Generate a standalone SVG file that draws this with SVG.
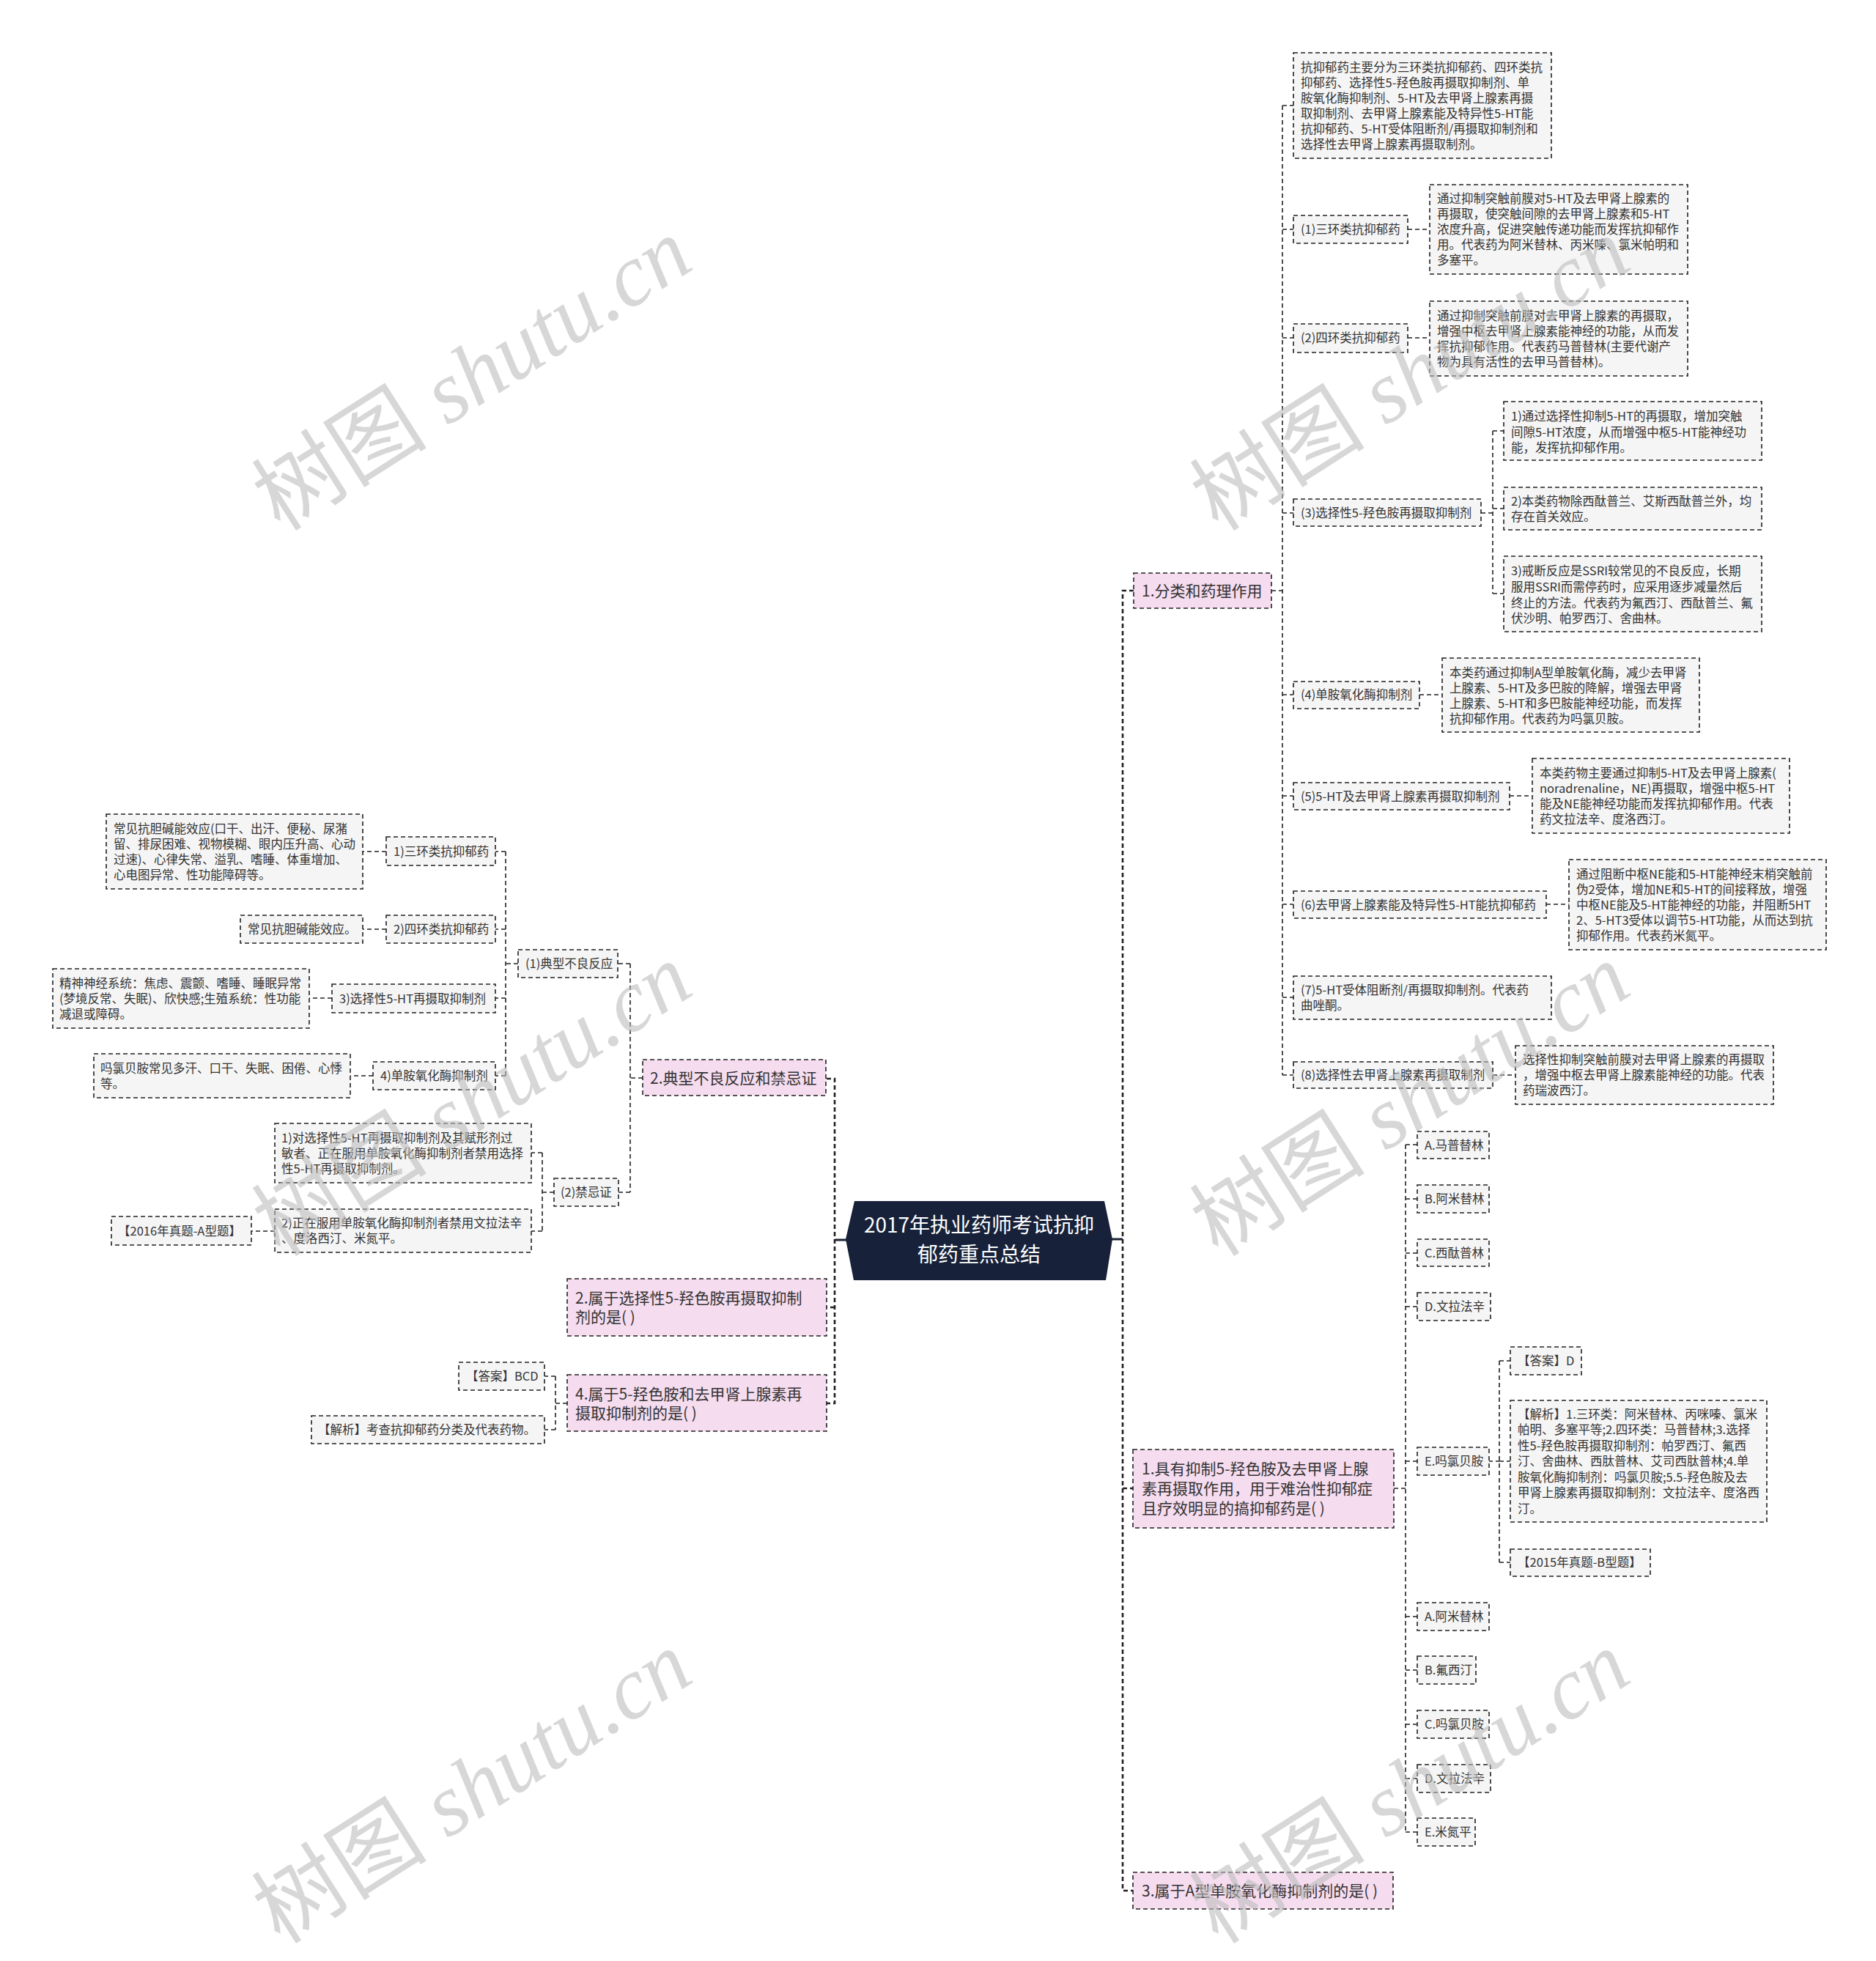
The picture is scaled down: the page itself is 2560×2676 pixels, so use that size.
<svg xmlns="http://www.w3.org/2000/svg" width="2560" height="2676" viewBox="0 0 2560 2676">
<style>
.box{fill:#f5f5f5;stroke:#222;stroke-width:1.6;stroke-dasharray:6 4}
.pk{fill:#f6dcef}
.t{font-family:"Noto Sans CJK SC","Noto Sans",sans-serif;font-size:16.5px;fill:#333}
.t1{font-size:21px}
.ln{fill:none;stroke:#222;stroke-width:1.6;stroke-dasharray:6 4}
.tr{stroke-width:2.6}
.solid{fill:none;stroke:#1a2335;stroke-width:3}
.wm{font-family:"Liberation Serif","Noto Sans CJK SC",serif;font-size:120px;fill:#bdbdbd;opacity:0.6}
</style>
<rect width="2560" height="2676" fill="#ffffff"/>

<g id="connectors">
<path class="solid" d="M1139 1692H1155M1517 1691H1532"/>
<path class="ln tr" d="M1547 806H1532V2580H1546"/>
<path class="ln tr" d="M1532 2031H1546"/>
<path class="ln tr" d="M1128 1472H1139V1915H1128M1139 1784H1128"/>
<path class="ln" d="M1735 806H1750M1750 144V1467M1750 144H1765M1750 313H1765M1750 461H1765M1750 700H1765M1750 948H1765M1750 1086H1765M1750 1234H1765M1750 1361H1765M1750 1467H1765"/>
<path class="ln" d="M1921 313H1951M1921 461H1951M1937 948H1968M2060 1086H2091M2110 1234H2141M2037 1467H2068"/>
<path class="ln" d="M2021 700H2037M2037 588V810M2037 588H2052M2037 694H2052M2037 810H2052"/>
<path class="ln" d="M1902 2031H1918M1918 1562V2500M1918 1562H1934M1918 1636H1934M1918 1710H1934M1918 1783H1934M1918 1994H1934M1918 2206H1934M1918 2279H1934M1918 2353H1934M1918 2427H1934M1918 2500H1934"/>
<path class="ln" d="M2031 1994H2046M2046 1857V2132M2046 1857H2061M2046 1994H2061M2046 2132H2061"/>
<path class="ln" d="M877 1471H860M860 1315V1627M860 1315H843M860 1627H844"/>
<path class="ln" d="M707 1315H690M690 1162V1468M690 1162H676M690 1268H676M690 1362H676M690 1468H676"/>
<path class="ln" d="M527 1162H495M527 1268H495M453 1362H422M509 1468H478"/>
<path class="ln" d="M756 1627H740M740 1573V1680M740 1573H725M740 1680H725M375 1680H343"/>
<path class="ln" d="M774 1915H758M758 1878V1951M758 1878H743M758 1951H743"/>
</g>

<g id="center">
<polygon points="1166,1639 1507,1639 1518,1691 1509,1747 1165,1747 1154,1691" fill="#17223a"/>
<text class="t" style="font-size:28px;fill:#ffffff" text-anchor="middle" x="1336"><tspan x="1336" y="1682">2017年执业药师考试抗抑</tspan><tspan x="1336" y="1722">郁药重点总结</tspan></text>
</g>

<g id="n-fenlei"><rect class="box pk" x="1547" y="782" width="188" height="48"/><text class="t t1" x="1558" y="813.5">1.分类和药理作用</text></g>
<g id="n-intro"><rect class="box" x="1765" y="72" width="352" height="144"/><text class="t"><tspan x="1775" y="98">抗抑郁药主要分为三环类抗抑郁药、四环类抗</tspan><tspan x="1775" y="119">抑郁药、选择性5-羟色胺再摄取抑制剂、单</tspan><tspan x="1775" y="140">胺氧化酶抑制剂、5-HT及去甲肾上腺素再摄</tspan><tspan x="1775" y="161">取抑制剂、去甲肾上腺素能及特异性5-HT能</tspan><tspan x="1775" y="182">抗抑郁药、5-HT受体阻断剂/再摄取抑制剂和</tspan><tspan x="1775" y="203">选择性去甲肾上腺素再摄取制剂。</tspan></text></g>
<g id="n-r1"><rect class="box" x="1765" y="294" width="156" height="38"/><text class="t" x="1775" y="319">(1)三环类抗抑郁药</text></g>
<g id="n-r1d"><rect class="box" x="1951" y="252" width="352" height="122"/><text class="t"><tspan x="1961" y="277">通过抑制突触前膜对5-HT及去甲肾上腺素的</tspan><tspan x="1961" y="298">再摄取，使突触间隙的去甲肾上腺素和5-HT</tspan><tspan x="1961" y="319">浓度升高，促进突触传递功能而发挥抗抑郁作</tspan><tspan x="1961" y="340">用。代表药为阿米替林、丙米嗪、氯米帕明和</tspan><tspan x="1961" y="361">多塞平。</tspan></text></g>
<g id="n-r2"><rect class="box" x="1765" y="442" width="156" height="39"/><text class="t" x="1775" y="467">(2)四环类抗抑郁药</text></g>
<g id="n-r2d"><rect class="box" x="1951" y="411" width="352" height="102"/><text class="t"><tspan x="1961" y="437">通过抑制突触前膜对去甲肾上腺素的再摄取，</tspan><tspan x="1961" y="458">增强中枢去甲肾上腺素能神经的功能，从而发</tspan><tspan x="1961" y="479">挥抗抑郁作用。代表药马普替林(主要代谢产</tspan><tspan x="1961" y="500">物为具有活性的去甲马普替林)。</tspan></text></g>
<g id="n-r3"><rect class="box" x="1765" y="681" width="256" height="37"/><text class="t" x="1775" y="706">(3)选择性5-羟色胺再摄取抑制剂</text></g>
<g id="n-r3a"><rect class="box" x="2052" y="548" width="352" height="80"/><text class="t"><tspan x="2062" y="574">1)通过选择性抑制5-HT的再摄取，增加突触</tspan><tspan x="2062" y="596">间隙5-HT浓度，从而增强中枢5-HT能神经功</tspan><tspan x="2062" y="617">能，发挥抗抑郁作用。</tspan></text></g>
<g id="n-r3b"><rect class="box" x="2052" y="665" width="352" height="58"/><text class="t"><tspan x="2062" y="690">2)本类药物除西酞普兰、艾斯西酞普兰外，均</tspan><tspan x="2062" y="711">存在首关效应。</tspan></text></g>
<g id="n-r3c"><rect class="box" x="2052" y="759" width="352" height="103"/><text class="t"><tspan x="2062" y="785">3)戒断反应是SSRI较常见的不良反应，长期</tspan><tspan x="2062" y="807">服用SSRI而需停药时，应采用逐步减量然后</tspan><tspan x="2062" y="829">终止的方法。代表药为氟西汀、西酞普兰、氟</tspan><tspan x="2062" y="850">伏沙明、帕罗西汀、舍曲林。</tspan></text></g>
<g id="n-r4"><rect class="box" x="1765" y="930" width="172" height="37"/><text class="t" x="1775" y="954">(4)单胺氧化酶抑制剂</text></g>
<g id="n-r4d"><rect class="box" x="1968" y="898" width="351" height="101"/><text class="t"><tspan x="1978" y="923.5">本类药通过抑制A型单胺氧化酶，减少去甲肾</tspan><tspan x="1978" y="944.5">上腺素、5-HT及多巴胺的降解，增强去甲肾</tspan><tspan x="1978" y="965.5">上腺素、5-HT和多巴胺能神经功能，而发挥</tspan><tspan x="1978" y="986.5">抗抑郁作用。代表药为吗氯贝胺。</tspan></text></g>
<g id="n-r5"><rect class="box" x="1765" y="1068" width="295" height="37"/><text class="t" x="1775" y="1092.5">(5)5-HT及去甲肾上腺素再摄取抑制剂</text></g>
<g id="n-r5d"><rect class="box" x="2091" y="1035" width="351" height="102"/><text class="t"><tspan x="2101" y="1060.5">本类药物主要通过抑制5-HT及去甲肾上腺素(</tspan><tspan x="2101" y="1081.5">noradrenaline，NE)再摄取，增强中枢5-HT</tspan><tspan x="2101" y="1102.5">能及NE能神经功能而发挥抗抑郁作用。代表</tspan><tspan x="2101" y="1123.5">药文拉法辛、度洛西汀。</tspan></text></g>
<g id="n-r6"><rect class="box" x="1765" y="1216" width="345" height="37"/><text class="t" x="1775" y="1240.5">(6)去甲肾上腺素能及特异性5-HT能抗抑郁药</text></g>
<g id="n-r6d"><rect class="box" x="2141" y="1173" width="351" height="123"/><text class="t"><tspan x="2151" y="1198.5">通过阻断中枢NE能和5-HT能神经末梢突触前</tspan><tspan x="2151" y="1219.5">伪2受体，增加NE和5-HT的间接释放，增强</tspan><tspan x="2151" y="1240.5">中枢NE能及5-HT能神经的功能，并阻断5HT</tspan><tspan x="2151" y="1261.5">2、5-HT3受体以调节5-HT功能，从而达到抗</tspan><tspan x="2151" y="1282.5">抑郁作用。代表药米氮平。</tspan></text></g>
<g id="n-r7"><rect class="box" x="1765" y="1332" width="352" height="59"/><text class="t"><tspan x="1775" y="1357">(7)5-HT受体阻断剂/再摄取抑制剂。代表药</tspan><tspan x="1775" y="1378">曲唑酮。</tspan></text></g>
<g id="n-r8"><rect class="box" x="1765" y="1449" width="272" height="36"/><text class="t" x="1775" y="1473">(8)选择性去甲肾上腺素再摄取制剂</text></g>
<g id="n-r8d"><rect class="box" x="2068" y="1427" width="352" height="80"/><text class="t"><tspan x="2078" y="1452">选择性抑制突触前膜对去甲肾上腺素的再摄取</tspan><tspan x="2078" y="1473">，增强中枢去甲肾上腺素能神经的功能。代表</tspan><tspan x="2078" y="1494">药瑞波西汀。</tspan></text></g>

<g id="n-q1"><rect class="box pk" x="1546" y="1978" width="356" height="107"/><text class="t t1"><tspan x="1558" y="2011.5">1.具有抑制5-羟色胺及去甲肾上腺</tspan><tspan x="1558" y="2038.5">素再摄取作用，用于难治性抑郁症</tspan><tspan x="1558" y="2065.5">且疗效明显的搞抑郁药是( )</tspan></text></g>
<g id="n-q1a"><rect class="box" x="1934" y="1544" width="98" height="37"/><text class="t" x="1944" y="1568.5">A.马普替林</text></g>
<g id="n-q1b"><rect class="box" x="1934" y="1617" width="98" height="38"/><text class="t" x="1944" y="1642">B.阿米替林</text></g>
<g id="n-q1c"><rect class="box" x="1934" y="1691" width="98" height="37"/><text class="t" x="1944" y="1716">C.西酞普林</text></g>
<g id="n-q1d"><rect class="box" x="1934" y="1764" width="100" height="38"/><text class="t" x="1944" y="1789">D.文拉法辛</text></g>
<g id="n-q1e"><rect class="box" x="1934" y="1975" width="98" height="38"/><text class="t" x="1944" y="2000">E.吗氯贝胺</text></g>
<g id="n-q1ans"><rect class="box" x="2061" y="1838" width="97" height="38"/><text class="t" x="2071" y="1863">【答案】D</text></g>
<g id="n-q1exp"><rect class="box" x="2061" y="1911" width="350" height="166"/><text class="t"><tspan x="2071" y="1935.5">【解析】1.三环类：阿米替林、丙咪嗪、氯米</tspan><tspan x="2071" y="1957">帕明、多塞平等;2.四环类：马普替林;3.选择</tspan><tspan x="2071" y="1978.5">性5-羟色胺再摄取抑制剂：帕罗西汀、氟西</tspan><tspan x="2071" y="2000">汀、舍曲林、西肽普林、艾司西肽普林;4.单</tspan><tspan x="2071" y="2021.5">胺氧化酶抑制剂：吗氯贝胺;5.5-羟色胺及去</tspan><tspan x="2071" y="2043">甲肾上腺素再摄取抑制剂：文拉法辛、度洛西</tspan><tspan x="2071" y="2064.5">汀。</tspan></text></g>
<g id="n-q1src"><rect class="box" x="2061" y="2114" width="191" height="37"/><text class="t" x="2071" y="2138">【2015年真题-B型题】</text></g>

<g id="n-q3"><rect class="box pk" x="1546" y="2555" width="355" height="50"/><text class="t t1" x="1558" y="2587.5">3.属于A型单胺氧化酶抑制剂的是( )</text></g>
<g id="n-q3a"><rect class="box" x="1934" y="2187" width="98" height="38"/><text class="t" x="1944" y="2212">A.阿米替林</text></g>
<g id="n-q3b"><rect class="box" x="1934" y="2260" width="80" height="38"/><text class="t" x="1944" y="2285">B.氟西汀</text></g>
<g id="n-q3c"><rect class="box" x="1934" y="2334" width="98" height="38"/><text class="t" x="1944" y="2359">C.吗氯贝胺</text></g>
<g id="n-q3d"><rect class="box" x="1934" y="2408" width="100" height="38"/><text class="t" x="1944" y="2433">D.文拉法辛</text></g>
<g id="n-q3e"><rect class="box" x="1934" y="2481" width="79" height="38"/><text class="t" x="1944" y="2506">E.米氮平</text></g>

<g id="n-adverse"><rect class="box pk" x="877" y="1446" width="250" height="49"/><text class="t t1" x="887" y="1478.5">2.典型不良反应和禁忌证</text></g>
<g id="n-l1"><rect class="box" x="707" y="1296" width="136" height="38"/><text class="t" x="717" y="1321">(1)典型不良反应</text></g>
<g id="n-l1a"><rect class="box" x="527" y="1142" width="149" height="39"/><text class="t" x="537" y="1167.5">1)三环类抗抑郁药</text></g>
<g id="n-l1ad"><rect class="box" x="145" y="1111" width="350" height="102"/><text class="t"><tspan x="155" y="1136.5">常见抗胆碱能效应(口干、出汗、便秘、尿潴</tspan><tspan x="155" y="1157.5">留、排尿困难、视物模糊、眼内压升高、心动</tspan><tspan x="155" y="1178.5">过速)、心律失常、溢乳、嗜睡、体重增加、</tspan><tspan x="155" y="1199.5">心电图异常、性功能障碍等。</tspan></text></g>
<g id="n-l1b"><rect class="box" x="527" y="1249" width="149" height="38"/><text class="t" x="537" y="1274">2)四环类抗抑郁药</text></g>
<g id="n-l1bd"><rect class="box" x="328" y="1249" width="167" height="38"/><text class="t" x="338" y="1274">常见抗胆碱能效应。</text></g>
<g id="n-l1c"><rect class="box" x="453" y="1343" width="223" height="39"/><text class="t" x="463" y="1368.5">3)选择性5-HT再摄取抑制剂</text></g>
<g id="n-l1cd"><rect class="box" x="72" y="1322" width="350" height="81"/><text class="t"><tspan x="81" y="1348">精神神经系统：焦虑、震颤、嗜睡、睡眠异常</tspan><tspan x="81" y="1369">(梦境反常、失眠)、欣快感;生殖系统：性功能</tspan><tspan x="81" y="1390">减退或障碍。</tspan></text></g>
<g id="n-l1d"><rect class="box" x="509" y="1449" width="167" height="38"/><text class="t" x="519" y="1474">4)单胺氧化酶抑制剂</text></g>
<g id="n-l1dd"><rect class="box" x="128" y="1438" width="350" height="60"/><text class="t"><tspan x="137" y="1463.5">吗氯贝胺常见多汗、口干、失眠、困倦、心悸</tspan><tspan x="137" y="1484.5">等。</tspan></text></g>
<g id="n-l2"><rect class="box" x="756" y="1608" width="88" height="38"/><text class="t" x="765" y="1633">(2)禁忌证</text></g>
<g id="n-l2a"><rect class="box" x="375" y="1533" width="350" height="81"/><text class="t"><tspan x="384" y="1559">1)对选择性5-HT再摄取抑制剂及其赋形剂过</tspan><tspan x="384" y="1580">敏者、正在服用单胺氧化酶抑制剂者禁用选择</tspan><tspan x="384" y="1601">性5-HT再摄取抑制剂。</tspan></text></g>
<g id="n-l2b"><rect class="box" x="375" y="1650" width="350" height="59"/><text class="t"><tspan x="384" y="1675">2)正在服用单胺氧化酶抑制剂者禁用文拉法辛</tspan><tspan x="384" y="1696">、度洛西汀、米氮平。</tspan></text></g>
<g id="n-l2src"><rect class="box" x="152" y="1660" width="191" height="39"/><text class="t" x="161" y="1685.5">【2016年真题-A型题】</text></g>

<g id="n-q2"><rect class="box pk" x="774" y="1745" width="354" height="78"/><text class="t t1"><tspan x="785" y="1779">2.属于选择性5-羟色胺再摄取抑制</tspan><tspan x="785" y="1805">剂的是( )</tspan></text></g>
<g id="n-q4"><rect class="box pk" x="774" y="1876" width="354" height="77"/><text class="t t1"><tspan x="785" y="1909.5">4.属于5-羟色胺和去甲肾上腺素再</tspan><tspan x="785" y="1935.5">摄取抑制剂的是( )</tspan></text></g>
<g id="n-q4ans"><rect class="box" x="626" y="1859" width="117" height="38"/><text class="t" x="636" y="1884">【答案】BCD</text></g>
<g id="n-q4exp"><rect class="box" x="425" y="1932" width="318" height="38"/><text class="t" x="434" y="1957">【解析】考查抗抑郁药分类及代表药物。</text></g>

<g id="watermarks">
<text class="wm" transform="translate(645,512) rotate(-32.5)" text-anchor="middle" y="40">树图 <tspan font-style="italic">shutu.cn</tspan></text>
<text class="wm" transform="translate(1925,512) rotate(-32.5)" text-anchor="middle" y="40">树图 <tspan font-style="italic">shutu.cn</tspan></text>
<text class="wm" transform="translate(645,1502) rotate(-32.5)" text-anchor="middle" y="40">树图 <tspan font-style="italic">shutu.cn</tspan></text>
<text class="wm" transform="translate(1925,1502) rotate(-32.5)" text-anchor="middle" y="40">树图 <tspan font-style="italic">shutu.cn</tspan></text>
<text class="wm" transform="translate(645,2440) rotate(-32.5)" text-anchor="middle" y="40">树图 <tspan font-style="italic">shutu.cn</tspan></text>
<text class="wm" transform="translate(1925,2440) rotate(-32.5)" text-anchor="middle" y="40">树图 <tspan font-style="italic">shutu.cn</tspan></text>
</g>
</svg>
